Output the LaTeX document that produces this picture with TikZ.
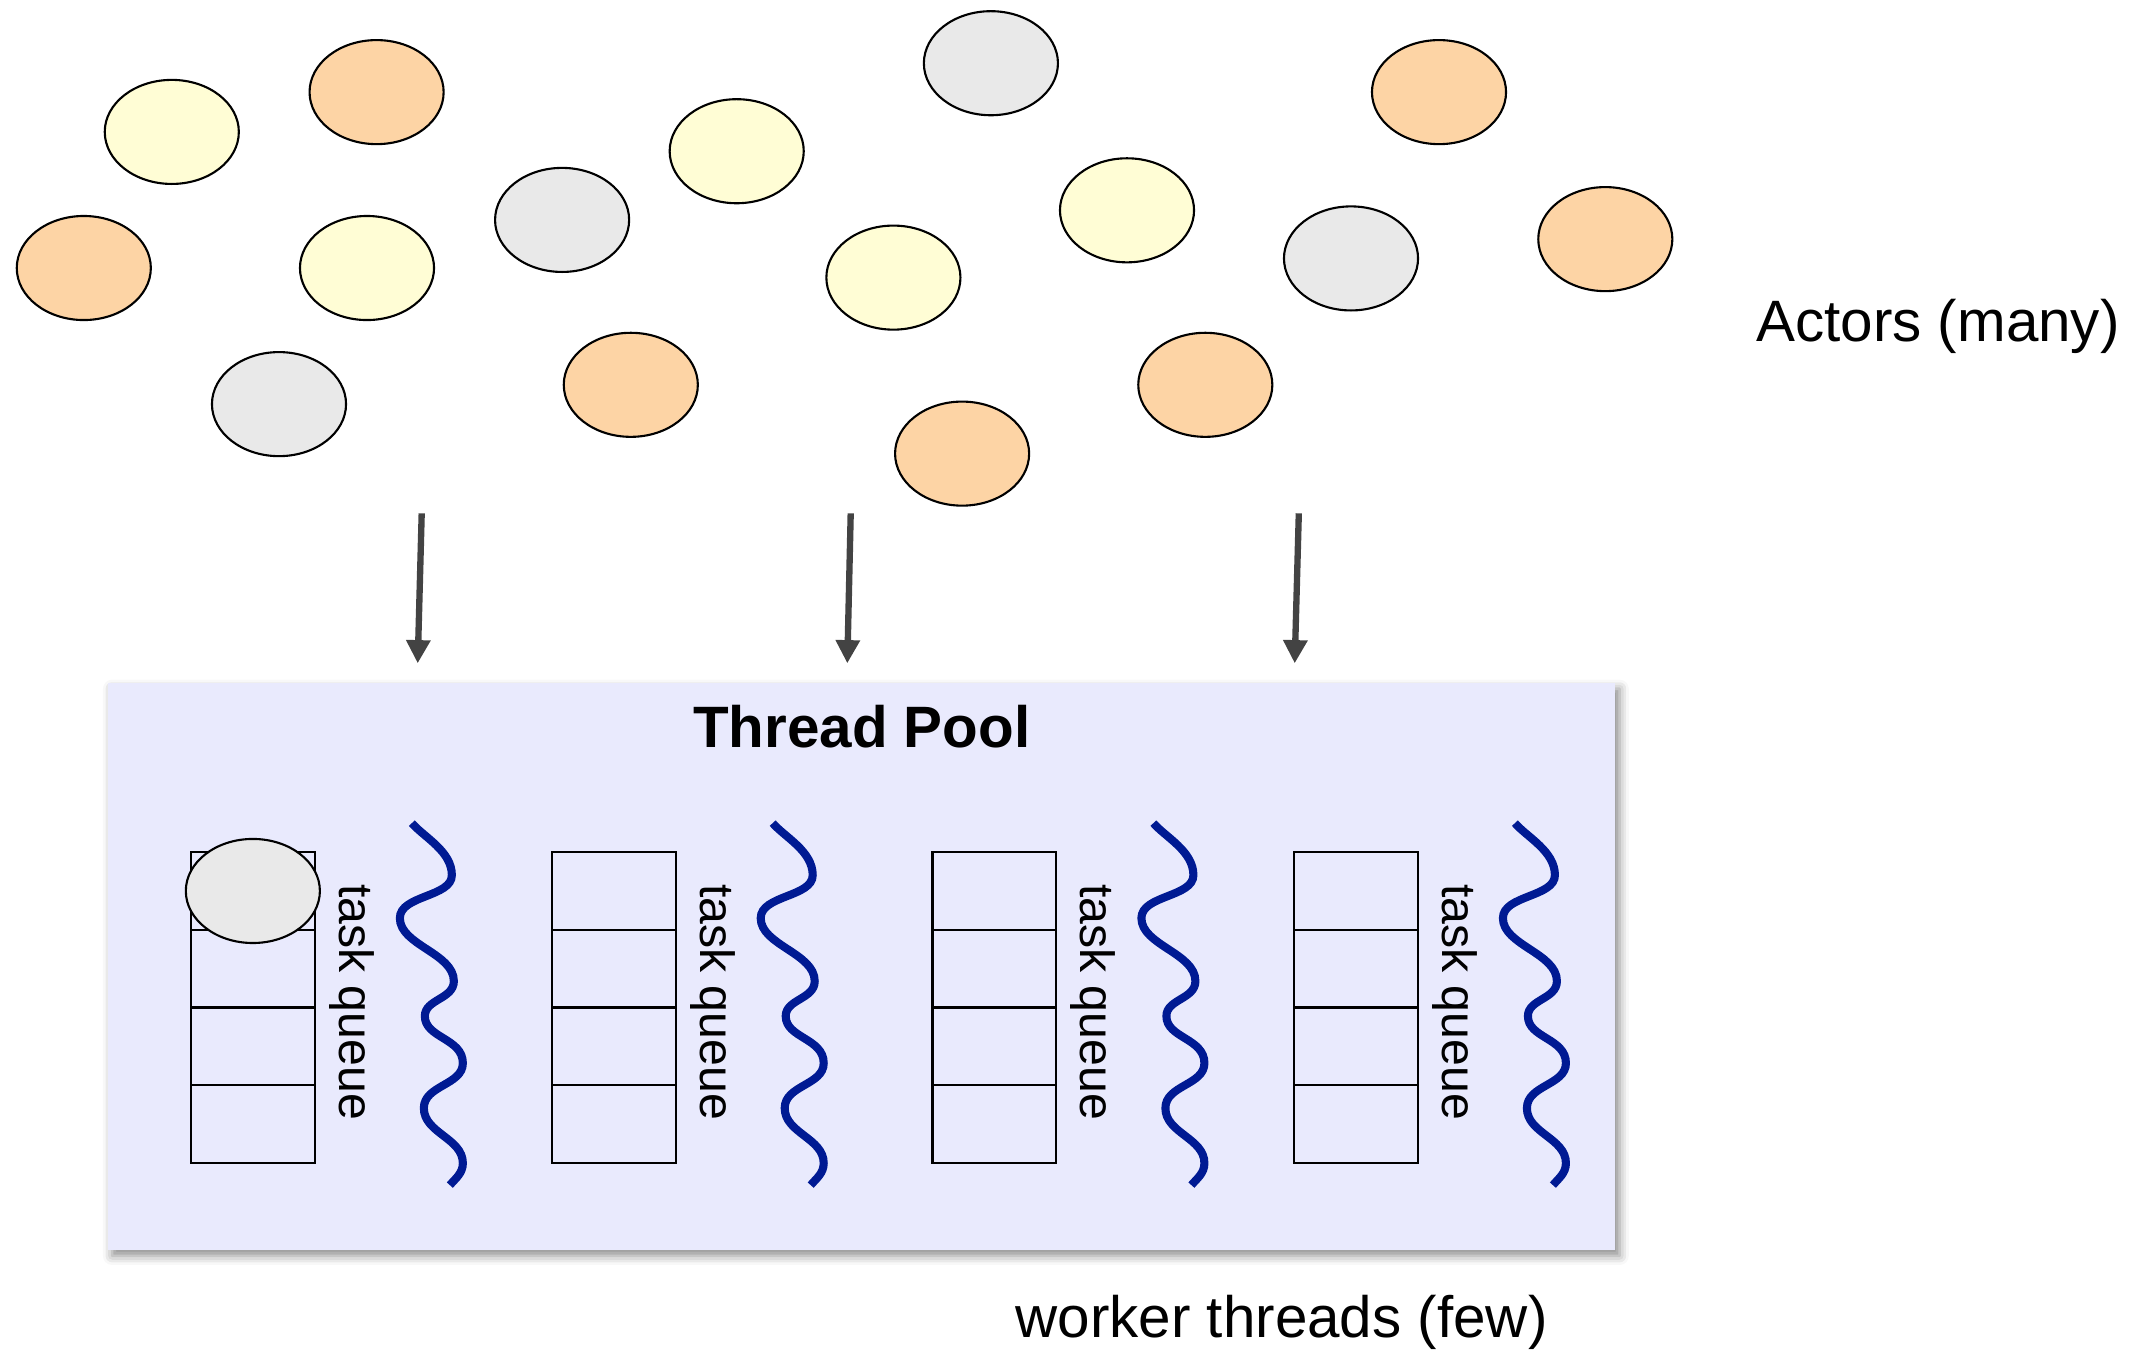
\documentclass[tikz,border=0pt]{standalone}
\usepackage{fontspec}
\setmainfont{Liberation Sans}
\usetikzlibrary{arrows.meta,shapes.geometric,shadows.blur}

% one task queue with its label and worker thread
\tikzset{
  taskqueue/.pic={
    \foreach \k in {0,...,3}
      \node[cell] (-c\k) at (0,{38.85+77.7*\k}) {};
    \node[qtext] (-text) at (99,150) {task queue};
    \draw[thread] (159,-29) .. controls (171,-15) and (199,-1) .. (199,23)
      .. controls (199,45) and (147,43) .. (147,66)
      .. controls (147,93) and (201,101) .. (201,129)
      .. controls (201,147) and (172,147) .. (172,164)
      .. controls (172,186) and (210,186) .. (210,211)
      .. controls (210,233) and (171,233) .. (171,256)
      .. controls (171,281) and (210,286) .. (210,311)
      .. controls (210,321) and (203,326) .. (197,333);
  }
}

\begin{document}
\begin{tikzpicture}[x=0.01cm, y=-0.01cm,
  actor/.style={ellipse, draw=black, line width=0.6pt, inner sep=0pt, minimum width=1.34cm, minimum height=1.04cm},
  pool/.style={fill=poolblue, inner sep=0pt, minimum width=15.067cm, minimum height=5.667cm,
    blur shadow={shadow xshift=1.2pt, shadow yshift=-1.6pt, shadow blur radius=2.6pt, shadow opacity=45}},
  cell/.style={draw=black, line width=0.6pt, inner sep=0pt, minimum width=1.237cm, minimum height=0.777cm},
  qtext/.style={rotate=-90, font=\fontsize{13.7pt}{16pt}\selectfont},
  thread/.style={draw=threadblue, line width=2.3pt},
  feed/.style={draw=arrowgrey, line width=1.8pt, -{Triangle[width=6.6pt,length=6.6pt]}},
  bigtext/.style={font=\fontsize{16.6pt}{20pt}\selectfont}]
\definecolor{actoryellow}{HTML}{FFFDD5}
\definecolor{actororange}{HTML}{FDD4A5}
\definecolor{actorgrey}{HTML}{E9E9E9}
\definecolor{poolblue}{HTML}{E9EAFD}
\definecolor{threadblue}{HTML}{001A93}
\definecolor{arrowgrey}{HTML}{434343}
\useasboundingbox (0,0) rectangle (2155,1350);

% actors
\node[actor, fill=actoryellow] (y1) at (171.8,131.9) {};
\node[actor, fill=actororange] (o1) at (376.6,92.1) {};
\node[actor, fill=actororange] (o2) at (83.8,268.0) {};
\node[actor, fill=actoryellow] (y2) at (367.0,268.0) {};
\node[actor, fill=actorgrey] (g1) at (279.0,404.1) {};
\node[actor, fill=actorgrey] (g2) at (562.1,219.9) {};
\node[actor, fill=actoryellow] (y3) at (736.7,151.2) {};
\node[actor, fill=actororange] (o3) at (630.8,384.8) {};
\node[actor, fill=actorgrey] (g3) at (990.9,63.2) {};
\node[actor, fill=actoryellow] (y4) at (893.4,277.6) {};
\node[actor, fill=actororange] (o4) at (962.1,453.6) {};
\node[actor, fill=actoryellow] (y5) at (1127.0,210.3) {};
\node[actor, fill=actororange] (o5) at (1205.3,384.8) {};
\node[actor, fill=actorgrey] (g4) at (1351.0,258.4) {};
\node[actor, fill=actororange] (o6) at (1439.0,92.1) {};
\node[actor, fill=actororange] (o7) at (1605.3,239.1) {};
\node[bigtext] (actors) at (1938,326) {Actors (many)};

% dispatch arrows
\coordinate (src1) at (421.7,513.3);
\coordinate (dst1) at (417.7,663.3);
\coordinate (src2) at (850.7,513.3);
\coordinate (dst2) at (847.3,663.3);
\coordinate (src3) at (1298.8,513.3);
\coordinate (dst3) at (1294.7,663.3);
\draw[feed] (src1) -- (dst1);
\draw[feed] (src2) -- (dst2);
\draw[feed] (src3) -- (dst3);

% the pool
\node[pool] (pool) at (861.65,966.65) {};
\node[bigtext, font=\fontsize{16.6pt}{20pt}\selectfont\bfseries] (title) at (861.7,726.5) {Thread Pool};
\pic (q1) at (252.85,852.1) {taskqueue};
\pic (q2) at (613.7,852.1) {taskqueue};
\pic (q3) at (994.4,852.1) {taskqueue};
\pic (q4) at (1355.9,852.1) {taskqueue};
\node[actor, fill=actorgrey] (queued) at (q1-c0) {};
\node[bigtext] (workers) at (1281.6,1322) {worker threads (few)};
\end{tikzpicture}
\end{document}
